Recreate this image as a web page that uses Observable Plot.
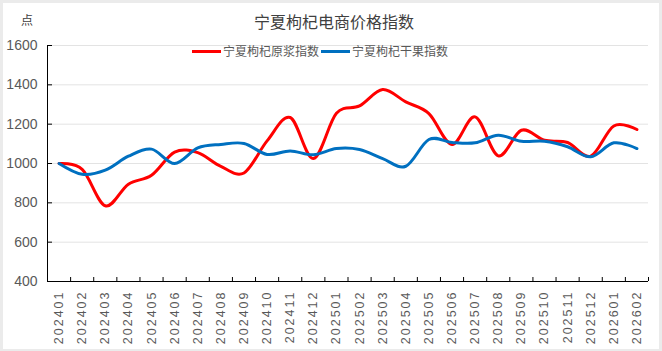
<!DOCTYPE html>
<html>
<head>
<meta charset="utf-8">
<script src="https://cdn.jsdelivr.net/npm/d3@7"></script>
<script src="https://cdn.jsdelivr.net/npm/@observablehq/plot@0.6"></script>
<style>
  html, body { margin: 0; padding: 0; background: #ebebeb; }
  #wrap { position: relative; width: 662px; height: 351px; background: #ebebeb; overflow: hidden;
          font-family: "Liberation Sans", Arial, "Noto Sans CJK SC", sans-serif; }
  #panel { position: absolute; left: 3px; top: 3px; width: 656px; height: 346px; background: #fff; }
  #chart { position: absolute; left: 0; top: 0; }
  #chart svg { background: transparent; }
  #title { position: absolute; left: 234px; width: 200px; top: 10px; text-align: center;
           font: 16px "Noto Sans CJK SC", sans-serif; color: #404040; line-height: 22px; }
  #unit { position: absolute; left: 21px; top: 11px; font: 12px "Noto Sans CJK SC", sans-serif; color: #404040; line-height: 18px; }
  #legend { position: absolute; left: 192px; top: 42px; font: 12px "Noto Sans CJK SC", sans-serif; color: #595959;
            line-height: 18px; white-space: nowrap; }
  #legend .item { display: inline-block; margin-right: 2px; }
  #legend .sw { display: inline-block; width: 29px; height: 3px; vertical-align: middle; margin-right: 2px; position: relative; top: -1px; }
  g[aria-label="x-axis tick label"] { letter-spacing: 2px; }
</style>
</head>
<body>
<div id="wrap">
  <div id="panel"></div>
  <div id="chart"></div>
  <div id="title">宁夏枸杞电商价格指数</div>
  <div id="unit">点</div>
  <div id="legend"></div>
</div>
<script>
const months = ["202401","202402","202403","202404","202405","202406","202407","202408","202409","202410","202411","202412",
                "202501","202502","202503","202504","202505","202506","202507","202508","202509","202510","202511","202512",
                "202601","202602"];
const seriesNames = ["宁夏枸杞原浆指数", "宁夏枸杞干果指数"];
const seriesColors = ["#ff0000", "#0070c0"];
const yuanjiang = [1000, 970, 785, 895, 940, 1058, 1055, 985, 952, 1115, 1234, 1025,
                   1255, 1293, 1376, 1313, 1254, 1097, 1237, 1039, 1169, 1118, 1107, 1037,
                   1191, 1173];
const ganguo = [1000, 945, 966, 1037, 1073, 1000, 1079, 1097, 1102, 1046, 1064, 1044,
                1076, 1071, 1025, 986, 1122, 1107, 1105, 1144, 1113, 1113, 1085, 1034,
                1105, 1076];
const yTicks = [400, 600, 800, 1000, 1200, 1400, 1600];

const idx = d3.range(months.length);
const boundaries = d3.range(months.length + 1).map(i => i - 0.5);

const chart = Plot.plot({
  width: 662,
  height: 351,
  marginLeft: 47,
  marginRight: 14,
  marginTop: 45,
  marginBottom: 70,
  style: { background: "transparent", fontFamily: "'Liberation Sans', Arial, sans-serif" },
  x: { type: "linear", domain: [-0.5, months.length - 0.5] },
  y: { domain: [400, 1600] },
  marks: [
    Plot.gridY(yTicks.filter(v => v > 400), { stroke: "#e3e3e3", strokeOpacity: 1, strokeWidth: 1 }),
    Plot.axisY(yTicks, { tickSize: 0, tickPadding: 10, fontSize: 14, fill: "#595959", label: null,
                         tickFormat: d => String(d) }),
    Plot.axisX(idx, { tickFormat: i => months[i], tickRotate: -90, tickSize: 0, tickPadding: 9,
                      fontSize: 12.5, fill: "#595959", label: null }),
    Plot.ruleX(boundaries, { x: d => d, y1: 400, y2: 400, insetTop: -4, stroke: "#000" }),
    Plot.ruleY(yTicks, { y: d => d, x1: -0.5, x2: -0.5, insetRight: -5, stroke: "#000" }),
    Plot.ruleX([-0.5], { stroke: "#000" }),
    Plot.ruleY([400], { stroke: "#000" }),
    Plot.line(idx, { x: i => i, y: i => yuanjiang[i], curve: "cardinal", stroke: seriesColors[0], strokeWidth: 3 }),
    Plot.line(idx, { x: i => i, y: i => ganguo[i], curve: "cardinal", stroke: seriesColors[1], strokeWidth: 3 })
  ]
});
document.getElementById("chart").appendChild(chart);

const legend = document.getElementById("legend");
seriesNames.forEach((name, k) => {
  const item = document.createElement("span");
  item.className = "item";
  const sw = document.createElement("span");
  sw.className = "sw";
  sw.style.background = seriesColors[k];
  item.appendChild(sw);
  item.appendChild(document.createTextNode(name));
  legend.appendChild(item);
});
</script>
</body>
</html>
